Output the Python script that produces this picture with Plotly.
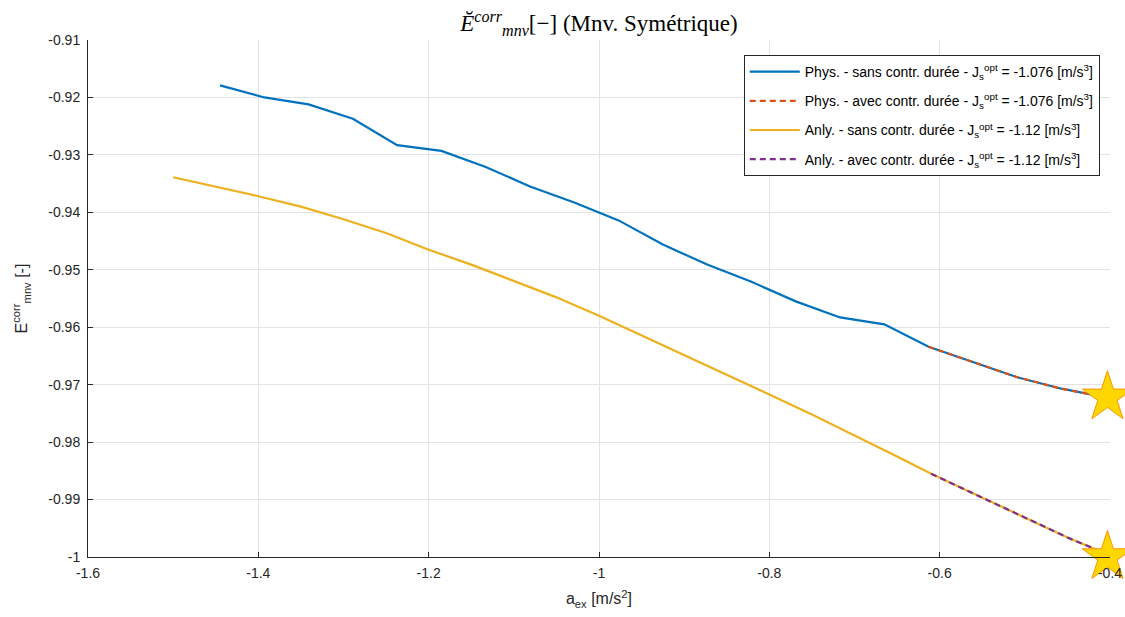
import plotly.graph_objects as go

# ---- data ----
phys_x = [-1.445, -1.393, -1.341, -1.289, -1.237, -1.185, -1.133, -1.081, -1.029, -0.977,
          -0.925, -0.873, -0.821, -0.769, -0.717, -0.665, -0.613, -0.561, -0.509, -0.457, -0.405]
phys_y = [-0.9179, -0.9200, -0.9212, -0.9237, -0.9283, -0.9293, -0.9321, -0.9355, -0.9383, -0.9414,
          -0.9456, -0.9491, -0.9521, -0.9555, -0.9583, -0.9595, -0.9634, -0.9660, -0.9687, -0.9707, -0.9722]

anly_x = [-1.5, -1.45, -1.4, -1.35, -1.3, -1.25, -1.2, -1.15, -1.1, -1.05, -1.0, -0.95, -0.9,
          -0.85, -0.8, -0.75, -0.7, -0.65, -0.61, -0.55, -0.5, -0.45, -0.405]
anly_y = [-0.9339, -0.9355, -0.9372, -0.9390, -0.9412, -0.9436, -0.9465, -0.9491, -0.9519, -0.9548,
          -0.9580, -0.9614, -0.9648, -0.9683, -0.9717, -0.9752, -0.9788, -0.9825, -0.9855, -0.9897,
          -0.9932, -0.9966, -0.9994]

phys_dash_start = 16   # index where "avec contr. durée" begins
anly_dash_start = 18

opt_x = [-0.403, -0.403]
opt_y = [-0.9722, -1.0]

x_ticks = [-1.6, -1.4, -1.2, -1.0, -0.8, -0.6, -0.4]
x_labels = ["-1.6", "-1.4", "-1.2", "-1", "-0.8", "-0.6", "-0.4"]
y_ticks = [-0.91, -0.92, -0.93, -0.94, -0.95, -0.96, -0.97, -0.98, -0.99, -1.0]
y_labels = ["-0.91", "-0.92", "-0.93", "-0.94", "-0.95", "-0.96", "-0.97", "-0.98", "-0.99", "-1"]

names = [
    "Phys. - sans contr. durée - J<sub>s</sub><sup>opt</sup> = -1.076 [m/s<sup>3</sup>]",
    "Phys. - avec contr. durée - J<sub>s</sub><sup>opt</sup> = -1.076 [m/s<sup>3</sup>]",
    "Anly. - sans contr. durée - J<sub>s</sub><sup>opt</sup> = -1.12 [m/s<sup>3</sup>]",
    "Anly. - avec contr. durée - J<sub>s</sub><sup>opt</sup> = -1.12 [m/s<sup>3</sup>]",
]

BLUE, ORANGE, YELLOW, PURPLE = "#0072BD", "#D95319", "#EDB120", "#7E2F8E"
AX = "#262626"
SANS = "Liberation Sans, Arial, Helvetica, sans-serif"

fig = go.Figure()
fig.add_trace(go.Scatter(x=phys_x, y=phys_y, mode="lines", name=names[0], legendgroup="a",
                         line=dict(color=BLUE, width=2.2)))
fig.add_trace(go.Scatter(x=phys_x[phys_dash_start:], y=phys_y[phys_dash_start:], mode="lines",
                         name=names[1], legendgroup="b",
                         line=dict(color=ORANGE, width=2.2, dash="6px,4px")))
fig.add_trace(go.Scatter(x=anly_x, y=anly_y, mode="lines", name=names[2], legendgroup="c",
                         line=dict(color=YELLOW, width=2.2)))
fig.add_trace(go.Scatter(x=anly_x[anly_dash_start:], y=anly_y[anly_dash_start:], mode="lines",
                         name=names[3], legendgroup="d",
                         line=dict(color=PURPLE, width=2.2, dash="6px,4px")))
fig.add_trace(go.Scatter(x=opt_x, y=opt_y, mode="markers", showlegend=False, cliponaxis=False,
                         marker=dict(symbol="star", size=38, color="#FFD700",
                                     line=dict(color="#FF9500", width=1))))

axis_common = dict(
    showgrid=True, gridcolor="#E3E3E3", gridwidth=1, zeroline=False, automargin=False,
    showline=True, linecolor=AX, linewidth=1, ticks="inside", ticklen=5, tickcolor=AX,
    tickfont=dict(family=SANS, size=14, color=AX),
)

fig.update_layout(
    width=1125, height=617,
    paper_bgcolor="white", plot_bgcolor="white",
    margin=dict(l=88, r=15, t=40, b=60, autoexpand=False),
    title=dict(text="<i>Ĕ</i><sup><i>corr</i></sup><sub><i>mnv</i></sub>[−] (Mnv. Symétrique)",
               x=(88 + 1110) / 2 / 1125, xanchor="center", y=0.962, yanchor="middle",
               font=dict(family="Liberation Serif, Times New Roman, serif", size=23, color="black")),
    xaxis=dict(range=[-1.6, -0.4], tickvals=x_ticks, ticktext=x_labels, ticklabelstandoff=3,
               title=dict(text="a<sub>ex</sub> [m/s<sup>2</sup>]", standoff=13,
                          font=dict(family=SANS, size=16, color=AX)),
               **axis_common),
    yaxis=dict(range=[-1.0, -0.91], tickvals=y_ticks, ticktext=y_labels, ticklabelstandoff=4,
               title=dict(text="E<sup>corr</sup><sub>mnv</sub> [-]", standoff=16,
                          font=dict(family=SANS, size=16, color=AX)),
               **axis_common),
    legend=dict(x=0.99, xanchor="right", y=0.971, yanchor="top",
                bgcolor="white", bordercolor=AX, borderwidth=1,
                font=dict(family=SANS, size=14, color="black"),
                itemwidth=50, tracegroupgap=8),
    showlegend=True,
)

fig.write_html("out.html", config={"displayModeBar": False},
               post_script="document.body.style.margin='0';")
